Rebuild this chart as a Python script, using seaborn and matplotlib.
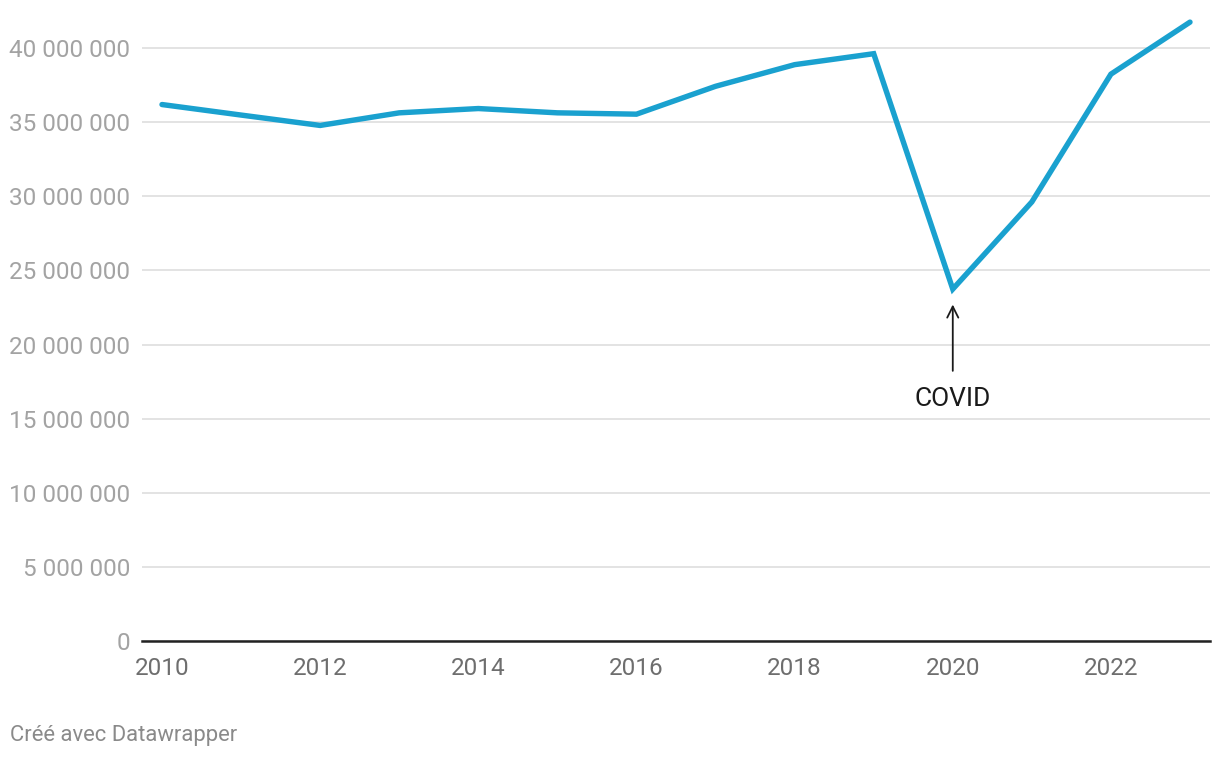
import pandas as pd
import seaborn as sns
import matplotlib.pyplot as plt
from matplotlib.ticker import FuncFormatter, MultipleLocator

# data
years = [2010, 2011, 2012, 2013, 2014, 2015, 2016, 2017, 2018, 2019, 2020, 2021, 2022, 2023]
values = [36.19, 35.48, 34.78, 35.63, 35.92, 35.63, 35.54, 37.42, 38.88, 39.62, 23.74, 29.62, 38.24, 41.75]  # millions
x_ticks = [2010, 2012, 2014, 2016, 2018, 2020, 2022]

df = pd.DataFrame({"year": years, "value": [v * 1e6 for v in values]})

sns.set_theme(style="white")
plt.rcParams['font.family'] = ['Roboto', 'DejaVu Sans']

fig = plt.figure(figsize=(12.2, 7.58), dpi=100)
ax = fig.add_axes([142 / 1220, 1 - 641 / 758, (1210 - 142) / 1220, (641 - 11) / 758])

sns.lineplot(data=df, x="year", y="value", ax=ax, color="#1aa1cf", linewidth=3.9,
             solid_capstyle="round", solid_joinstyle="miter", zorder=3)

ax.set_xlim(2010 - 20 / 79.08, 2023 + 20 / 79.08)
ax.set_ylim(0, 42.5e6)
ax.yaxis.set_major_locator(MultipleLocator(5e6))
ax.set_xticks(x_ticks)
ax.yaxis.set_major_formatter(FuncFormatter(lambda v, p: "{:,.0f}".format(v).replace(",", " ")))

ax.grid(axis="y", color="#e3e3e3", linewidth=1.4)
ax.grid(axis="x", visible=False)
for s in ["top", "right", "left"]:
    ax.spines[s].set_visible(False)
ax.spines["bottom"].set_color("#222222")
ax.spines["bottom"].set_linewidth(1.8)
ax.spines["bottom"].set_zorder(4)

ax.tick_params(axis="y", length=0, pad=8.5, labelsize=17.5, labelcolor="#a3a3a3")
ax.tick_params(axis="x", length=0, pad=11.5, labelsize=17.5, labelcolor="#6e6e6e")
ax.set_xlabel("")
ax.set_ylabel("")

# annotation
ax.annotate("COVID", xy=(2020, 22.7e6), xytext=(2020, 16.35e6),
            ha="center", va="center", fontsize=19, color="#1a1a1a",
            arrowprops=dict(arrowstyle="->", color="#1a1a1a", lw=1.3,
                            shrinkA=9, shrinkB=0, mutation_scale=20))

fig.text(10 / 1220, 1 - 735 / 758, "Créé avec Datawrapper", ha="left", va="center",
         fontsize=15.8, color="#8a8a8a")

fig.savefig("out.png", dpi=100, facecolor="white")
